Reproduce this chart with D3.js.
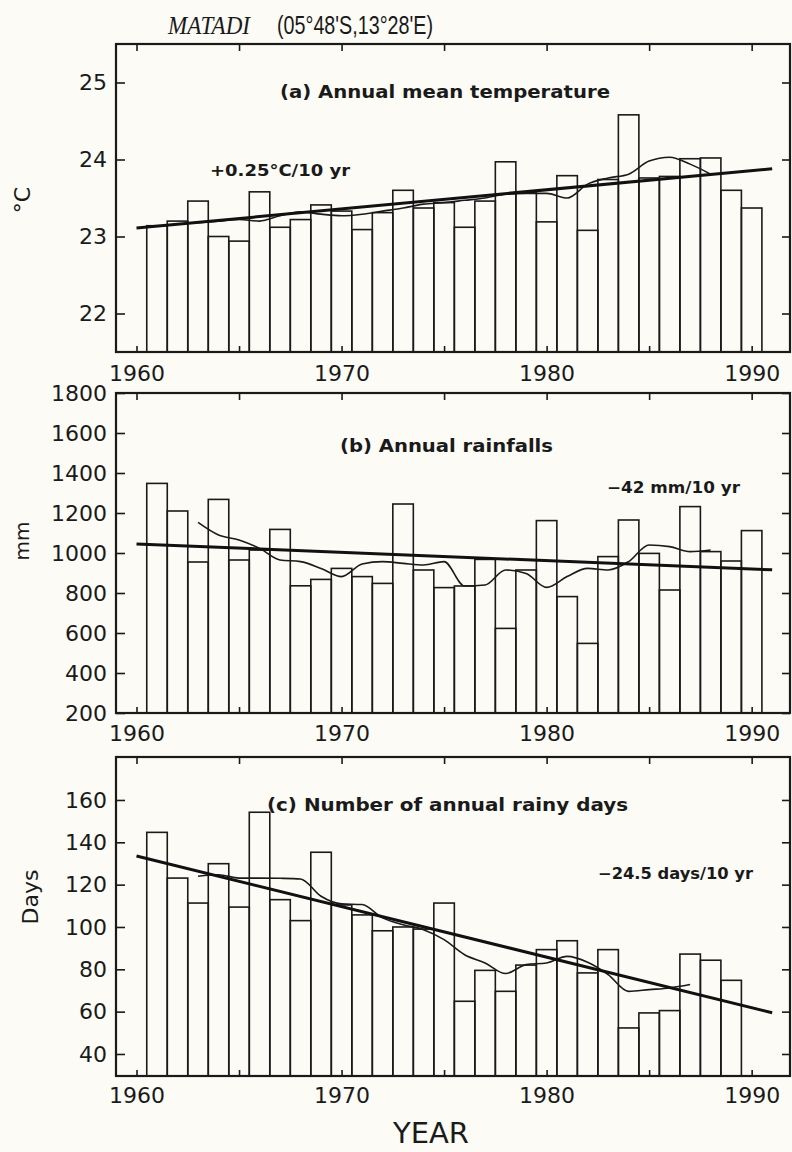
<!DOCTYPE html>
<html>
<head>
<meta charset="utf-8">
<script src="https://cdn.jsdelivr.net/npm/d3@7"></script>
<style>
  body { margin: 0; background: #fcfbf6; }
  svg { display: block; }
  text { fill: #1a1a1a; }
  .tick line { stroke: #1a1a1a; stroke-width: 1.6; }
  .tick text { font-family: "DejaVu Sans", sans-serif; font-size: 22px; fill: #1a1a1a; }
</style>
</head>
<body>
<div class="chart"></div>
<script>
var svgWidth = 792;
var svgHeight = 1152;

// yearly bars
var years = [1961, 1962, 1963, 1964, 1965, 1966, 1967, 1968, 1969, 1970,
  1971, 1972, 1973, 1974, 1975, 1976, 1977, 1978, 1979, 1980,
  1981, 1982, 1983, 1984, 1985, 1986, 1987, 1988, 1989, 1990];
var tempValues = [23.14, 23.20, 23.46, 23.00, 22.94, 23.58, 23.12, 23.22, 23.41, 23.33,
  23.09, 23.31, 23.60, 23.37, 23.44, 23.12, 23.46, 23.97, 23.57, 23.19,
  23.79, 23.08, 23.74, 24.58, 23.76, 23.78, 24.01, 24.02, 23.60, 23.37];
var rainValues = [1348, 1210, 955, 1268, 965, 1015, 1118, 836, 868, 923,
  882, 848, 1245, 915, 827, 835, 968, 623, 915, 1162,
  782, 548, 982, 1165, 998, 815, 1232, 1007, 960, 1112];
var dayYears = [1961, 1962, 1963, 1964, 1965, 1966, 1967, 1968, 1969, 1970,
  1971, 1972, 1973, 1974, 1975, 1976, 1977, 1978, 1979, 1980,
  1981, 1982, 1983, 1984, 1985, 1986, 1987, 1988, 1989];
var dayValues = [144.7, 123.1, 111.3, 129.9, 109.4, 154.2, 112.9, 103.0, 135.3, 110.4,
  105.7, 98.2, 100.0, 99.0, 111.3, 64.9, 79.5, 69.6, 82.0, 89.3,
  93.5, 78.3, 89.3, 52.3, 59.4, 60.5, 87.2, 84.3, 74.8];

// 5-year running means
var smoothYears = [1963, 1964, 1965, 1966, 1967, 1968, 1969, 1970, 1971, 1972,
  1973, 1974, 1975, 1976, 1977, 1978, 1979, 1980, 1981, 1982,
  1983, 1984, 1985, 1986, 1987, 1988];
var tempSmooth = [23.18, 23.20, 23.22, 23.20, 23.27, 23.32, 23.29, 23.27, 23.29, 23.33,
  23.37, 23.42, 23.44, 23.47, 23.50, 23.55, 23.56, 23.56, 23.50, 23.68,
  23.76, 23.81, 23.98, 24.03, 23.94, 23.81];
var rainSmooth = [1153, 1090, 1065, 1023, 965, 957, 923, 882, 945, 957,
  948, 940, 957, 835, 840, 915, 898, 828, 882, 923,
  915, 957, 1040, 1032, 1007, 1015];
var daySmoothYears = [1963, 1964, 1965, 1966, 1967, 1968, 1969, 1970, 1971, 1972,
  1973, 1974, 1975, 1976, 1977, 1978, 1979, 1980, 1981, 1982,
  1983, 1984, 1985, 1986, 1987];
var daySmooth = [124.0, 124.7, 123.1, 123.1, 123.0, 122.7, 114.5, 110.9, 110.6, 104.3,
  101.1, 98.7, 94.0, 86.9, 83.0, 78.0, 82.2, 83.0, 86.1, 83.3,
  77.5, 69.6, 70.4, 71.2, 72.8];

// linear trends
var trendYears = [1960, 1991];
var tempTrend = [23.11, 23.88];
var rainTrend = [1045, 916];
var dayTrend = [133.5, 59.5];

// ticks
var xTickYears = [1960, 1965, 1970, 1975, 1980, 1985, 1990];
var xLabelYears = [1960, 1970, 1980, 1990];
var tempTicks = [22, 23, 24, 25];
var rainTicks = [200, 400, 600, 800, 1000, 1200, 1400, 1600, 1800];
var dayTicks = [40, 60, 80, 100, 120, 140, 160];

var svg = d3.select(".chart")
  .append("svg")
  .attr("width", svgWidth)
  .attr("height", svgHeight);

var boxLeft = 116, boxRight = 790;

var x = d3.scaleLinear()
  .domain([1959, 1991.87])
  .range([boxLeft, boxRight]);

var barW = x(1961) - x(1960);

var panels = [
  { top: 44, bottom: 352, domain: [21.5, 25.5], ticks: tempTicks,
    barYears: years, values: tempValues, sYears: smoothYears, smooth: tempSmooth,
    trend: tempTrend, labelPad: 13 },
  { top: 393, bottom: 713, domain: [200, 1800], ticks: rainTicks,
    barYears: years, values: rainValues, sYears: smoothYears, smooth: rainSmooth,
    trend: rainTrend, labelPad: 12 },
  { top: 757, bottom: 1076, domain: [29.6, 180.3], ticks: dayTicks,
    barYears: dayYears, values: dayValues, sYears: daySmoothYears, smooth: daySmooth,
    trend: dayTrend, labelPad: 11 }
];

panels.forEach(function(p) {
  var y = d3.scaleLinear().domain(p.domain).range([p.bottom, p.top]);
  var g = svg.append("g");

  // bars
  g.selectAll("rect.bar")
    .data(p.barYears)
    .enter()
    .append("rect")
    .attr("class", "bar")
    .attr("x", d => x(d) - barW / 2)
    .attr("width", barW)
    .attr("y", (d, i) => y(p.values[i]))
    .attr("height", (d, i) => p.bottom - y(p.values[i]))
    .attr("fill", "none")
    .attr("stroke", "#1a1a1a")
    .attr("stroke-width", 1.6);

  // running mean
  var line = d3.line().x(d => x(d[0])).y(d => y(d[1])).curve(d3.curveMonotoneX);
  g.append("path")
    .datum(p.sYears.map((yr, i) => [yr, p.smooth[i]]))
    .attr("d", line)
    .attr("fill", "none")
    .attr("stroke", "#1a1a1a")
    .attr("stroke-width", 1.6);

  // trend
  g.append("path")
    .datum(trendYears.map((yr, i) => [yr, p.trend[i]]))
    .attr("d", d3.line().x(d => x(d[0])).y(d => y(d[1])))
    .attr("fill", "none")
    .attr("stroke", "#111")
    .attr("stroke-width", 3);

  // frame
  g.append("rect")
    .attr("x", boxLeft)
    .attr("y", p.top)
    .attr("width", boxRight - boxLeft)
    .attr("height", p.bottom - p.top)
    .attr("fill", "none")
    .attr("stroke", "#1a1a1a")
    .attr("stroke-width", 2.2);

  // left axis with inward ticks
  g.append("g")
    .attr("transform", `translate(${boxLeft}, 0)`)
    .call(d3.axisLeft(y).tickValues(p.ticks).tickSizeInner(-9).tickSizeOuter(0)
      .tickPadding(9).tickFormat(d => String(d)))
    .call(a => a.select(".domain").remove());

  // right axis ticks
  g.append("g")
    .attr("transform", `translate(${boxRight}, 0)`)
    .call(d3.axisRight(y).tickValues(p.ticks).tickSizeInner(-8).tickSizeOuter(0).tickFormat(""))
    .call(a => a.select(".domain").remove());

  // top ticks
  g.append("g")
    .attr("transform", `translate(0, ${p.top})`)
    .call(d3.axisTop(x).tickValues(xTickYears).tickSizeInner(-7).tickSizeOuter(0).tickFormat(""))
    .call(a => a.select(".domain").remove());

  // bottom ticks + year labels
  g.append("g")
    .attr("transform", `translate(0, ${p.bottom})`)
    .call(d3.axisBottom(x).tickValues(xTickYears).tickSizeInner(-6).tickSizeOuter(0)
      .tickPadding(p.labelPad)
      .tickFormat(d => xLabelYears.indexOf(d) >= 0 ? String(d) : ""))
    .call(a => a.select(".domain").remove());
});

// title
svg.append("text")
  .attr("x", 168).attr("y", 34)
  .attr("font-family", "Liberation Serif, serif")
  .attr("font-style", "italic")
  .attr("font-size", 25)
  .attr("textLength", 82)
  .attr("lengthAdjust", "spacingAndGlyphs")
  .text("MATADI");
svg.append("text")
  .attr("x", 277).attr("y", 34)
  .attr("font-family", "Liberation Sans Narrow, Liberation Sans, sans-serif")
  .attr("font-size", 25)
  .attr("textLength", 156)
  .attr("lengthAdjust", "spacingAndGlyphs")
  .text("(05°48'S,13°28'E)");

// panel captions
var captions = [
  { x: 280, y: 98, w: 330, size: 17, t: "(a) Annual mean temperature" },
  { x: 210, y: 176, w: 140, size: 15, t: "+0.25°C/10 yr" },
  { x: 340, y: 452, w: 213, size: 17, t: "(b) Annual rainfalls" },
  { x: 607, y: 493, w: 133, size: 15, t: "\u221242 mm/10 yr" },
  { x: 267, y: 811, w: 361, size: 17, t: "(c) Number of annual rainy days" },
  { x: 598, y: 879, w: 155, size: 15, t: "\u221224.5 days/10 yr" }
];
svg.selectAll("text.caption")
  .data(captions)
  .enter()
  .append("text")
  .attr("class", "caption")
  .attr("x", d => d.x)
  .attr("y", d => d.y)
  .attr("font-family", "DejaVu Sans, sans-serif")
  .attr("font-weight", "bold")
  .attr("font-size", d => d.size)
  .attr("textLength", d => d.w)
  .attr("lengthAdjust", "spacingAndGlyphs")
  .text(d => d.t);

// y unit labels
var units = [
  { x: 22, y: 200, size: 22, t: "°C" },
  { x: 22, y: 541, size: 20, t: "mm" },
  { x: 30, y: 897, size: 22, t: "Days" }
];
svg.selectAll("text.unit")
  .data(units)
  .enter()
  .append("text")
  .attr("class", "unit")
  .attr("transform", d => `translate(${d.x}, ${d.y}) rotate(-90)`)
  .attr("text-anchor", "middle")
  .attr("dy", "0.35em")
  .attr("font-family", "DejaVu Sans, sans-serif")
  .attr("font-size", d => d.size)
  .text(d => d.t);

// x axis title
svg.append("text")
  .attr("x", 431).attr("y", 1143)
  .attr("text-anchor", "middle")
  .attr("font-family", "DejaVu Sans, sans-serif")
  .attr("font-size", 29)
  .text("YEAR");
</script>
</body>
</html>
